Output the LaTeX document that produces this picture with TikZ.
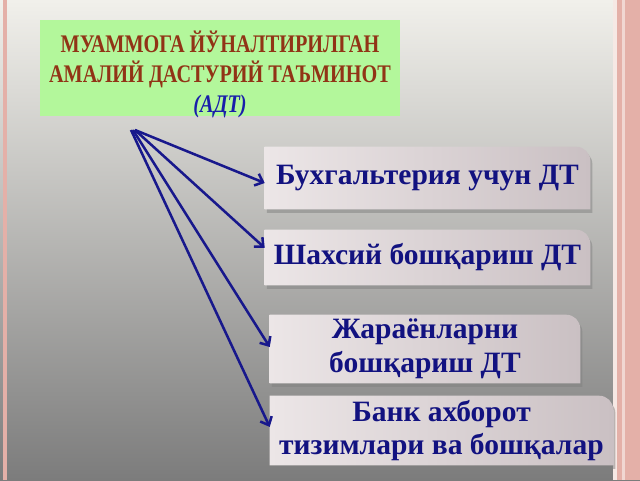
\documentclass[tikz,border=0pt]{standalone}
\usepackage{fontspec}
\setmainfont{Liberation Serif}
\newfontfamily\titlefont[FakeStretch=0.8]{Liberation Serif}
\usetikzlibrary{arrows.meta, shadows, backgrounds}
\definecolor{navyblue}{RGB}{18,18,128}
\definecolor{arrowblue}{RGB}{24,24,140}
\definecolor{titlered}{RGB}{145,52,22}
\definecolor{titleblue}{RGB}{25,30,170}
\definecolor{titlegreen}{RGB}{179,247,155}
\definecolor{borderpink}{RGB}{228,176,168}
\definecolor{borderlight}{RGB}{246,232,228}
\definecolor{boxlight}{RGB}{236,230,231}
\definecolor{boxdark}{RGB}{202,192,195}
\definecolor{bgtop}{RGB}{241,240,235}
\definecolor{bgbottom}{RGB}{124,124,124}
\pgfdeclarelayer{backdrop}
\pgfsetlayers{backdrop,background,main}

\tikzset{
  item/.style={text=navyblue, font=\fontsize{21}{24}\selectfont\bfseries,
    align=center, inner sep=0pt},
  link/.style={draw=arrowblue, line width=1.8pt, -{Straight Barb[length=5pt,width=9pt]}}
}

\begin{document}
\begin{tikzpicture}
\useasboundingbox (0,0) rectangle (16,12);
% backdrop and border stripes
\begin{pgfonlayer}{backdrop}
\shade[top color=bgtop, bottom color=bgbottom] (0,0) rectangle (16,12);
\fill[borderpink] (0.075,0) rectangle (0.175,12);
\fill[borderlight] (15.325,0) rectangle (15.425,12);
\fill[borderpink] (15.425,0) rectangle (15.55,12);
\fill[borderlight!70!borderpink] (15.55,0) rectangle (15.625,12);
\fill[borderpink] (15.625,0) rectangle (16,12);
\end{pgfonlayer}

% heading
\node[fill=titlegreen, minimum width=9cm, minimum height=2.4cm] (title) at (5.5,10.3) {};
\node[text=titlered, align=center, font=\titlefont\fontsize{18}{21.3}\selectfont\bfseries]
  (head) at (5.5,10.15) {МУАММОГА ЙЎНАЛТИРИЛГАН\\АМАЛИЙ ДАСТУРИЙ ТАЪМИНОТ\\
  \textcolor{titleblue}{\itshape (АДТ)}};

% items
\node[item, minimum width=8.125cm, minimum height=1.55cm] (acc) at (10.6875,7.55) {Бухгальтерия учун ДТ};
\node[item, minimum width=8.125cm, minimum height=1.375cm] (pers) at (10.6875,5.5625) {Шахсий бошқариш ДТ};
\node[item, minimum width=7.75cm, minimum height=1.7cm] (proc) at (10.625,3.275) {Жараёнларни\\бошқариш ДТ};
\node[item, minimum width=8.575cm, minimum height=1.725cm] (bank) at (11.0375,1.2375) {Банк ахборот\\тизимлари ва бошқалар};

\begin{scope}[on background layer]
\foreach \b in {acc, pers, proc, bank}
  \shade[left color=boxlight, right color=boxdark,
    drop shadow={shadow xshift=1.5pt, shadow yshift=-2.5pt, opacity=0.5}]
    (\b.south west) -- (\b.north west) -- ([xshift=-10pt]\b.north east)
    arc[start angle=90, end angle=0, radius=10pt] -- (\b.south east) -- cycle;
\end{scope}

% arrows
\coordinate (src) at (3.375,8.75);
\draw[link] (src) -- ([yshift=-0.125cm]acc.west);
\draw[link] (src) -- ([yshift=0.24cm]pers.west);
\draw[link] ([xshift=-0.05cm]src) -- ([yshift=0.05cm]proc.west);
\draw[link] ([xshift=-0.1cm]src) -- ([yshift=0.09cm]bank.west);
\end{tikzpicture}
\end{document}
